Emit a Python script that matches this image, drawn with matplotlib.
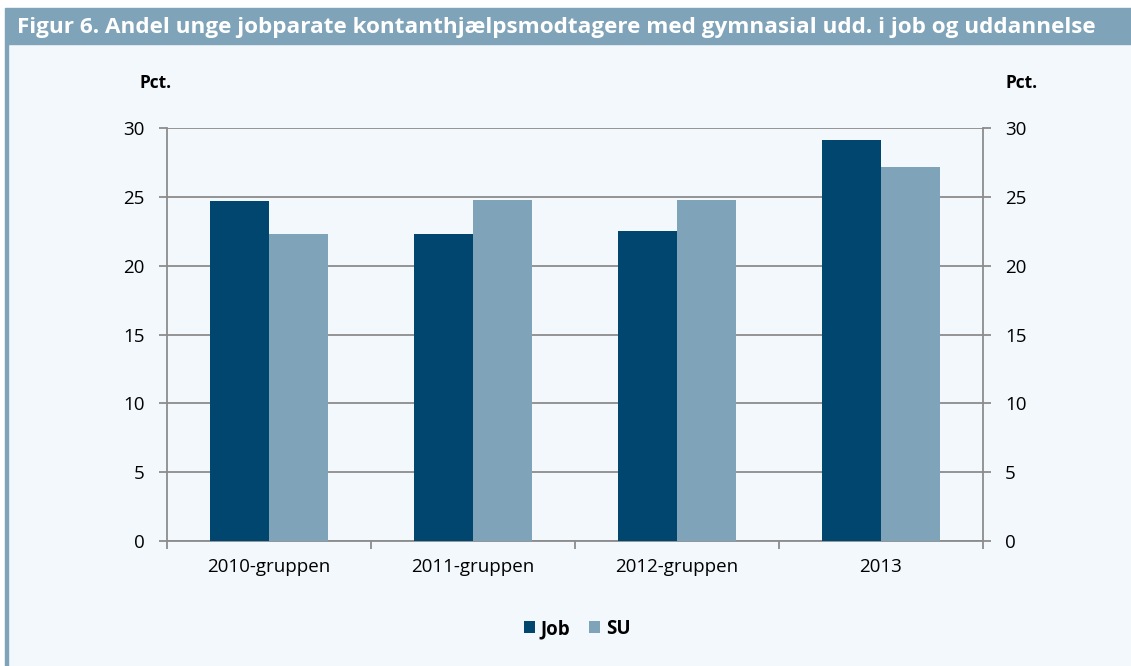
import matplotlib.pyplot as plt
import matplotlib.patches as mpatches
import numpy as np

# === Data ===
categories = ["2010-gruppen", "2011-gruppen", "2012-gruppen", "2013"]
job = [24.7, 22.3, 22.5, 29.1]
su = [22.3, 24.8, 24.8, 27.2]
yticks = [0, 5, 10, 15, 20, 25, 30]

dark = "#00466e"
light = "#7fa3b8"
bg = "#f3f8fc"
grey = "#8c8c8c"

plt.rcParams['font.family'] = ['Open Sans', 'DejaVu Sans']

fig = plt.figure(figsize=(11.31, 6.66), dpi=100)
fig.patch.set_facecolor("white")

# background panel, title bar and left strip
fig.add_artist(mpatches.Rectangle((5 / 1131, 0), 1 - 5 / 1131, 1 - 44 / 666,
                                  transform=fig.transFigure, color=bg, zorder=-2))
fig.add_artist(mpatches.Rectangle((5 / 1131, 1 - 44 / 666), 1 - 5 / 1131, 36 / 666,
                                  transform=fig.transFigure, color=light, zorder=-1))
fig.add_artist(mpatches.Rectangle((5 / 1131, 0), 3 / 1131, 1 - 44 / 666,
                                  transform=fig.transFigure, color=light, zorder=-1))
fig.text(17 / 1131, 1 - 27 / 666, "Figur 6. Andel unge jobparate kontanthjælpsmodtagere med gymnasial udd. i job og uddannelse",
         color="white", fontsize=16.2, fontweight="bold", va="center", ha="left")

# === Axes ===
ax = fig.add_axes([167 / 1131, 1 - 541 / 666, 816 / 1131, 413 / 666])
ax.set_facecolor(bg)
x = np.arange(len(categories))
w = 0.29
ax.bar(x - w / 2, job, w, color=dark, label="Job", zorder=3)
ax.bar(x + w / 2, su, w, color=light, label="SU", zorder=3)

ax.set_xlim(-0.5, 3.5)
ax.set_ylim(0, 30)
ax.set_yticks(yticks)
ax.yaxis.grid(True, color=grey, linewidth=1.3, zorder=0)
ax.set_xticks(x)
ax.set_xticklabels(categories, fontsize=13.5)
ax.tick_params(axis="x", length=0, pad=12)
ax.set_xticks(np.arange(-0.5, 4, 1), minor=True)
ax.tick_params(axis="x", which="minor", length=6, color=grey, width=1.3)
ax.tick_params(axis="y", labelsize=13.5, length=6, color=grey, width=1.3, pad=10,
               left=True, right=True, labelleft=True, labelright=True)
for side in ["left", "right", "bottom"]:
    ax.spines[side].set_color(grey)
    ax.spines[side].set_linewidth(1.3)
ax.spines["top"].set_visible(False)

fig.text(156 / 1131, 1 - 83 / 666, "Pct.", fontsize=12.5, fontweight="bold", ha="center", va="center")
fig.text(1022 / 1131, 1 - 83 / 666, "Pct.", fontsize=12.5, fontweight="bold", ha="center", va="center")

fig.legend(loc="center", bbox_to_anchor=(577 / 1131, 1 - 629 / 666), ncol=2, frameon=False,
           handlelength=0.6, handleheight=0.6, handletextpad=0.3, columnspacing=1.0,
           prop={"size": 13.5, "weight": "bold"})

fig.savefig("out.png", dpi=100, facecolor=fig.get_facecolor())
